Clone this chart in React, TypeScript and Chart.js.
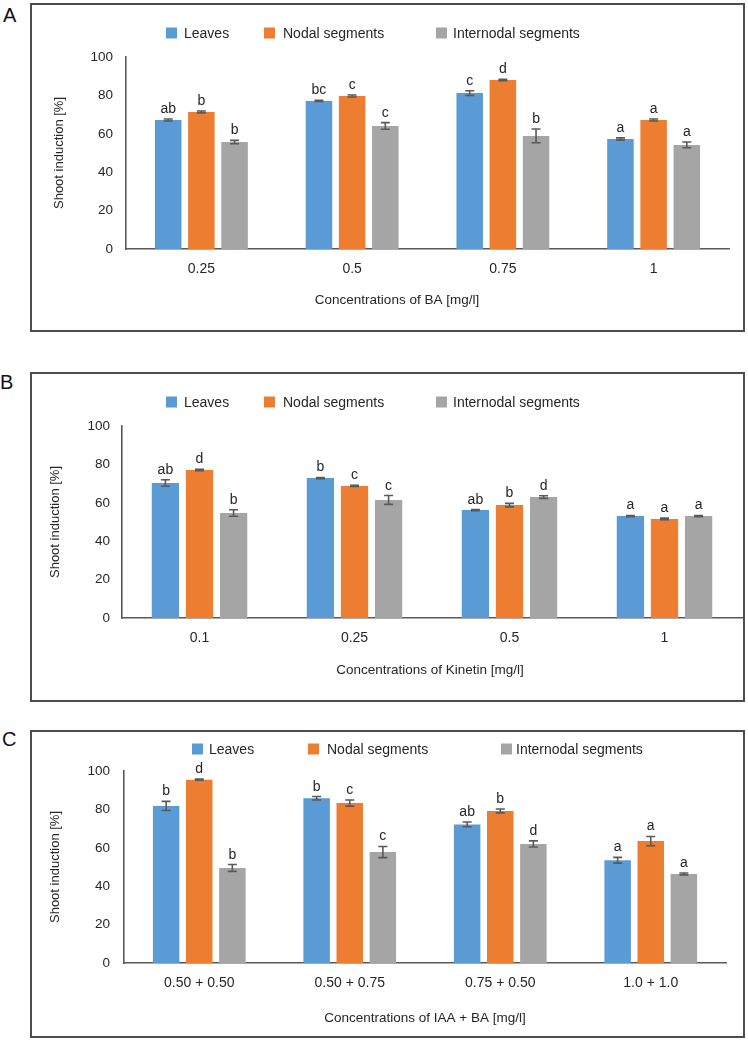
import React, { useEffect, useRef } from "react";
import { Chart, registerables } from "chart.js";

Chart.register(...registerables);

// ---------- data ----------
const seriesNames = ["Leaves", "Nodal segments", "Internodal segments"];
const seriesColors = ["#5B9BD5", "#ED7D31", "#A5A5A5"];

// Panel A – BA
const categoriesA = ["0.25", "0.5", "0.75", "1"];
const leavesA = [67.2, 77.1, 81.2, 57.3];
const nodalA = [71.4, 79.7, 88.0, 67.2];
const internodalA = [55.7, 64.1, 58.9, 54.2];
const leavesErrA = [0.5, 0.3, 1.2, 0.6];
const nodalErrA = [0.5, 0.5, 0.4, 0.5];
const internodalErrA = [0.9, 1.7, 3.6, 1.5];
const leavesLetA = ["ab", "bc", "c", "a"];
const nodalLetA = ["b", "c", "d", "a"];
const internodalLetA = ["b", "c", "b", "a"];

// Panel B – Kinetin
const categoriesB = ["0.1", "0.25", "0.5", "1"];
const leavesB = [70.3, 72.9, 56.2, 53.1];
const nodalB = [77.1, 68.8, 58.8, 51.6];
const internodalB = [54.7, 61.5, 63.0, 53.1];
const leavesErrB = [1.7, 0.3, 0.3, 0.3];
const nodalErrB = [0.4, 0.3, 0.9, 0.4];
const internodalErrB = [1.7, 2.3, 0.7, 0.3];
const leavesLetB = ["ab", "b", "ab", "a"];
const nodalLetB = ["d", "c", "b", "a"];
const internodalLetB = ["b", "c", "d", "a"];

// Panel C – IAA + BA
const categoriesC = ["0.50 + 0.50", "0.50 + 0.75", "0.75 + 0.50", "1.0 + 1.0"];
const leavesC = [81.8, 85.8, 72.2, 53.5];
const nodalC = [95.5, 83.3, 79.2, 63.5];
const internodalC = [49.5, 57.8, 62.0, 46.4];
const leavesErrC = [2.4, 0.9, 1.2, 1.5];
const nodalErrC = [0.3, 1.6, 1.0, 2.4];
const internodalErrC = [1.8, 2.9, 1.6, 0.5];
const leavesLetC = ["b", "b", "ab", "a"];
const nodalLetC = ["d", "c", "b", "a"];
const internodalLetC = ["b", "c", "d", "a"];

const yTicksMax = 100;
const yTicksStep = 20;

// ---------- layout ----------
const FONT = "'Liberation Sans', Arial, Helvetica, sans-serif";
const AXIS_COLOR = "#595959";
const TEXT_COLOR = "#262626";

type Box = { l: number; t: number; r: number; b: number };
type PanelSpec = {
  letter: string;
  letterPos: { x: number; y: number };
  box: Box;
  plot: Box;
  categories: string[];
  values: number[][];
  errors: number[][];
  letters: string[][];
  xTitle: string;
  xTitleX: number;
  xTitleY: number;
  yTitleX: number;
  legendSquareX: number[];
  legendTextX: number[];
  legendY: number;
  yTickPad: number;
};

const panels: PanelSpec[] = [
  {
    letter: "A",
    letterPos: { x: 3, y: 5 },
    box: { l: 31, t: 4, r: 744, b: 331 },
    plot: { l: 126, r: 729, t: 57, b: 249 },
    categories: categoriesA,
    values: [leavesA, nodalA, internodalA],
    errors: [leavesErrA, nodalErrA, internodalErrA],
    letters: [leavesLetA, nodalLetA, internodalLetA],
    xTitle: "Concentrations of BA [mg/l]",
    xTitleX: 397,
    xTitleY: 300,
    yTitleX: 59,
    legendSquareX: [166, 264, 436],
    legendTextX: [184, 283, 453],
    legendY: 33,
    yTickPad: 13,
  },
  {
    letter: "B",
    letterPos: { x: 0, y: 372 },
    box: { l: 31, t: 373, r: 744, b: 701 },
    plot: { l: 122, r: 742, t: 426, b: 618 },
    categories: categoriesB,
    values: [leavesB, nodalB, internodalB],
    errors: [leavesErrB, nodalErrB, internodalErrB],
    letters: [leavesLetB, nodalLetB, internodalLetB],
    xTitle: "Concentrations of Kinetin [mg/l]",
    xTitleX: 430,
    xTitleY: 670,
    yTitleX: 55,
    legendSquareX: [166, 264, 436],
    legendTextX: [184, 283, 453],
    legendY: 402,
    yTickPad: 12,
  },
  {
    letter: "C",
    letterPos: { x: 2, y: 729 },
    box: { l: 31, t: 731, r: 744, b: 1037 },
    plot: { l: 124, r: 726, t: 771, b: 963 },
    categories: categoriesC,
    values: [leavesC, nodalC, internodalC],
    errors: [leavesErrC, nodalErrC, internodalErrC],
    letters: [leavesLetC, nodalLetC, internodalLetC],
    xTitle: "Concentrations of IAA + BA [mg/l]",
    xTitleX: 425,
    xTitleY: 1018,
    yTitleX: 55,
    legendSquareX: [192, 308, 501],
    legendTextX: [209, 327, 516],
    legendY: 749,
    yTickPad: 14,
  },
];

function Panel({ spec }: { spec: PanelSpec }) {
  const ref = useRef<HTMLCanvasElement | null>(null);
  const cl = spec.box.l - 1;
  const ct = spec.box.t - 1;
  const cw = spec.box.r - spec.box.l + 2;
  const ch = spec.box.b - spec.box.t + 2;

  useEffect(() => {
    if (!ref.current) return;
    const leftW = spec.plot.l - cl;
    const topPad = spec.plot.t - ct;
    const rightPad = cw - (spec.plot.r - cl);
    const bottomH = ch - (spec.plot.b - ct);

    const decor = {
      id: "panelDecor",
      afterDatasetsDraw(chart: any) {
        const ctx = chart.ctx as CanvasRenderingContext2D;
        const yScale = chart.scales.y;
        ctx.save();
        chart.data.datasets.forEach((ds: any, di: number) => {
          const meta = chart.getDatasetMeta(di);
          meta.data.forEach((bar: any, i: number) => {
            const v = ds.data[i] as number;
            const e = ds.errors[i] as number;
            const x = bar.x;
            const yT = yScale.getPixelForValue(v + e);
            const yB = yScale.getPixelForValue(v - e);
            ctx.strokeStyle = "#595959";
            ctx.lineWidth = 1.6;
            ctx.beginPath();
            ctx.moveTo(x, yT);
            ctx.lineTo(x, yB);
            ctx.moveTo(x - 4.5, yT);
            ctx.lineTo(x + 4.5, yT);
            ctx.moveTo(x - 4.5, yB);
            ctx.lineTo(x + 4.5, yB);
            ctx.stroke();
            ctx.fillStyle = TEXT_COLOR;
            ctx.font = `14px ${FONT}`;
            ctx.textAlign = "center";
            ctx.textBaseline = "alphabetic";
            ctx.fillText(ds.letters[i], x, yT - 6);
          });
        });
        ctx.restore();
      },
      afterDraw(chart: any) {
        const ctx = chart.ctx as CanvasRenderingContext2D;
        ctx.save();
        // box border
        ctx.strokeStyle = "#4d4d4d";
        ctx.lineWidth = 2;
        ctx.strokeRect(1, 1, cw - 2, ch - 2);
        // legend
        ctx.font = `14px ${FONT}`;
        ctx.textBaseline = "middle";
        ctx.textAlign = "left";
        seriesNames.forEach((name, i) => {
          ctx.fillStyle = seriesColors[i];
          ctx.fillRect(spec.legendSquareX[i] - cl, spec.legendY - ct - 5.5, 11, 11);
          ctx.fillStyle = TEXT_COLOR;
          ctx.fillText(name, spec.legendTextX[i] - cl, spec.legendY - ct + 1);
        });
        // x title
        ctx.font = `13.5px ${FONT}`;
        ctx.textAlign = "center";
        ctx.fillStyle = TEXT_COLOR;
        ctx.fillText(spec.xTitle, spec.xTitleX - cl, spec.xTitleY - ct);
        // y title
        const ca = chart.chartArea;
        ctx.translate(spec.yTitleX - cl, (ca.top + ca.bottom) / 2);
        ctx.rotate(-Math.PI / 2);
        ctx.font = `13px ${FONT}`;
        ctx.fillText("Shoot induction [%]", 0, 0);
        ctx.restore();
      },
    };

    const chart = new Chart(ref.current, {
      type: "bar",
      data: {
        labels: spec.categories,
        datasets: spec.values.map((vals, i) => ({
          label: seriesNames[i],
          data: vals,
          errors: spec.errors[i],
          letters: spec.letters[i],
          backgroundColor: seriesColors[i],
          borderWidth: 0,
          categoryPercentage: 0.66,
          barPercentage: 0.8,
        })) as any,
      },
      options: {
        responsive: false,
        animation: false,
        devicePixelRatio: 1,
        layout: { padding: { top: topPad, right: rightPad, left: 0, bottom: 0 } },
        plugins: {
          legend: { display: false },
          tooltip: { enabled: false },
          title: { display: false },
        },
        scales: {
          x: {
            grid: { display: false, drawTicks: false },
            border: { display: true, color: AXIS_COLOR, width: 1.6 },
            ticks: { font: { family: FONT, size: 14 }, color: TEXT_COLOR, padding: 12, maxRotation: 0, autoSkip: false },
            afterFit: (s: any) => {
              s.height = bottomH;
            },
          },
          y: {
            min: 0,
            max: yTicksMax,
            grid: { display: false, drawTicks: false },
            border: { display: true, color: AXIS_COLOR, width: 1.6 },
            ticks: { stepSize: yTicksStep, font: { family: FONT, size: 13.5 }, color: TEXT_COLOR, padding: spec.yTickPad },
            afterFit: (s: any) => {
              s.width = leftW;
            },
          },
        },
      } as any,
      plugins: [decor],
    });
    return () => chart.destroy();
  }, []);

  return (
    <>
      <div
        style={{
          position: "absolute",
          left: spec.letterPos.x,
          top: spec.letterPos.y,
          font: `20px ${FONT}`,
          lineHeight: "20px",
          color: "#111",
        }}
      >
        {spec.letter}
      </div>
      <canvas
        ref={ref}
        width={cw}
        height={ch}
        style={{ position: "absolute", left: cl, top: ct, width: cw, height: ch }}
      />
    </>
  );
}

export default function App() {
  return (
    <div style={{ position: "absolute", left: 0, top: 0, width: 748, height: 1041, background: "#fff" }}>
      {panels.map((p) => (
        <Panel key={p.letter} spec={p} />
      ))}
    </div>
  );
}
